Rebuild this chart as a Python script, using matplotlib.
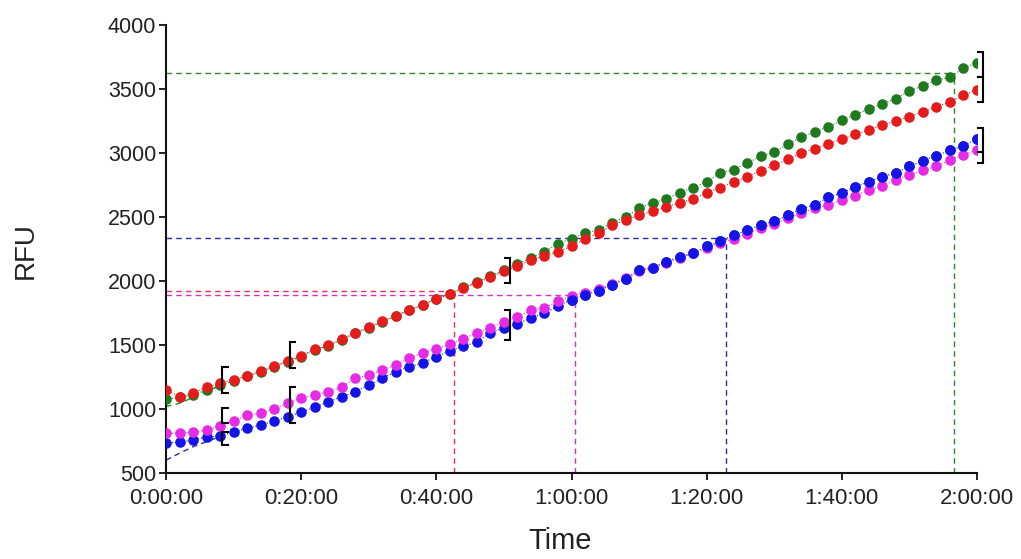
import matplotlib
matplotlib.use("Agg")
import matplotlib.pyplot as plt
import numpy as np

plt.rcParams['font.family'] = ['Liberation Sans', 'DejaVu Sans']

# time in minutes (dots every 2 minutes)
time_min = list(range(0, 121, 2))

red = [1150, 1095, 1125, 1170, 1200, 1230, 1260, 1295, 1335, 1375, 1415, 1465, 1500, 1545, 1595,
       1640, 1685, 1730, 1775, 1815, 1860, 1895, 1945, 1985, 2030, 2075, 2115, 2165, 2195, 2230,
       2270, 2330, 2375, 2435, 2475, 2515, 2545, 2580, 2610, 2640, 2690, 2730, 2775, 2815, 2860,
       2905, 2950, 3000, 3035, 3070, 3110, 3145, 3180, 3220, 3250, 3285, 3320, 3360, 3400, 3450, 3495]
green = [1075, 1090, 1110, 1150, 1185, 1220, 1255, 1290, 1330, 1370, 1410, 1460, 1495, 1540, 1590,
         1635, 1680, 1725, 1770, 1815, 1860, 1900, 1950, 1990, 2040, 2085, 2130, 2180, 2230, 2290,
         2330, 2375, 2400, 2455, 2500, 2570, 2610, 2640, 2690, 2730, 2775, 2845, 2870, 2920, 2975,
         3005, 3070, 3125, 3165, 3205, 3255, 3300, 3345, 3385, 3425, 3485, 3525, 3570, 3590, 3665, 3705]
blue = [735, 740, 758, 780, 790, 820, 850, 875, 905, 940, 975, 1015, 1055, 1095, 1135,
        1185, 1240, 1290, 1330, 1360, 1410, 1455, 1490, 1525, 1595, 1635, 1665, 1710, 1750, 1805,
        1855, 1890, 1925, 1970, 2015, 2085, 2105, 2150, 2190, 2220, 2270, 2310, 2360, 2395, 2440,
        2465, 2515, 2565, 2595, 2655, 2690, 2735, 2775, 2815, 2845, 2895, 2940, 2980, 3020, 3055, 3110]
magenta = [810, 812, 820, 836, 865, 905, 950, 970, 1000, 1045, 1085, 1110, 1135, 1170, 1240,
           1265, 1305, 1345, 1395, 1440, 1470, 1505, 1550, 1595, 1635, 1680, 1720, 1770, 1790, 1840,
           1885, 1910, 1940, 1980, 2020, 2075, 2105, 2140, 2180, 2215, 2260, 2295, 2330, 2370, 2415,
           2445, 2490, 2530, 2570, 2590, 2635, 2665, 2710, 2745, 2790, 2830, 2865, 2895, 2945, 2985, 3025]

# short fit segments at the start (dashed)
fit_time = [0, 2, 4, 6, 8]
blue_fit = [600, 655, 705, 745, 785]
green_fit = [1020, 1045, 1090, 1140, 1180]

# threshold crossing guides
cross_names = ['red', 'magenta', 'blue', 'green']
cross_times = [42.6, 60.5, 82.9, 116.6]
cross_values = [1920, 1893, 2336, 3625]

# brackets: (time, low, high, side)
bracket_t = [8.3, 8.3, 8.3, 18.3, 18.3, 50.9, 50.9, 120.9, 120.9, 120.9, 120.9]
bracket_lo = [1125, 890, 720, 1320, 890, 1984, 1539, 3594, 3398, 3008, 2922]
bracket_hi = [1330, 1010, 820, 1523, 1172, 2180, 1773, 3789, 3594, 3195, 3008]
bracket_side = ['[', '[', '[', '[', '[', ']', ']', ']', ']', ']', ']']

x_ticks = [0, 20, 40, 60, 80, 100, 120]
x_tick_labels = ['0:00:00', '0:20:00', '0:40:00', '1:00:00', '1:20:00', '1:40:00', '2:00:00']
y_ticks = [500, 1000, 1500, 2000, 2500, 3000, 3500, 4000]

dot_colors = {'red': '#e51c1c', 'green': '#1f7a1f', 'blue': '#1414e6', 'magenta': '#e62be6'}
guide_colors = {'red': '#e8305a', 'green': '#2a8a2a', 'blue': '#2a2aa0', 'magenta': '#d030d0'}

fig = plt.figure(figsize=(10.21, 5.59), dpi=100)
ax = fig.add_axes([166/1021, 1-473/559, (977-166)/1021, (473-25)/559])

# guides
for name, tc, vc in zip(cross_names, cross_times, cross_values):
    c = guide_colors[name]
    ax.plot([0, tc], [vc, vc], color=c, lw=1.0, ls=(0, (4, 3)), zorder=1)
    ax.plot([tc, tc], [500, vc], color=c, lw=1.0, ls=(0, (4, 3)), zorder=1)

# fit dashed starts
ax.plot(fit_time, blue_fit, color='#2a2ab0', lw=1.0, ls=(0, (4, 3)), zorder=2)
ax.plot(fit_time, green_fit, color='#2a8a2a', lw=1.0, ls=(0, (4, 3)), zorder=2)

ms = 7.6
series = [('green', green), ('red', red), ('blue', blue), ('magenta', magenta)]
for name, vals in series:
    ax.plot(time_min, vals, color=dot_colors[name], lw=0.8, ls=':', marker='o',
            markersize=ms, markeredgewidth=0, zorder=3)
# blue on top in the later part, as in the reference
ax.plot(time_min[30:], blue[30:], color=dot_colors['blue'], lw=0, marker='o', markersize=ms,
        markeredgewidth=0, zorder=3)

# brackets
serif = 0.8
for t, lo, hi, side in zip(bracket_t, bracket_lo, bracket_hi, bracket_side):
    d = serif if side == '[' else -serif
    ax.plot([t + d, t, t, t + d], [hi, hi, lo, lo], color='black', lw=1.5,
            clip_on=False, zorder=4, solid_joinstyle='miter')

ax.set_xlim(0, 120)
ax.set_ylim(500, 4000)
ax.set_xticks(x_ticks)
ax.set_xticklabels(x_tick_labels)
ax.set_yticks(y_ticks)
for s in ['top', 'right']:
    ax.spines[s].set_visible(False)
for s in ['left', 'bottom']:
    ax.spines[s].set_linewidth(1.5)
    ax.spines[s].set_color('#111111')
ax.tick_params(axis='both', direction='out', length=5, width=1.3, colors='#111111',
               labelcolor='#222222')
ax.tick_params(axis='x', labelsize=16, pad=6)
ax.tick_params(axis='y', labelsize=15.5, pad=2)

fig.text(560/1021, 1-541/559, 'Time', fontsize=21, ha='center', va='center', color='#222222')
fig.text(26/1021, 1-251/559, 'RFU', fontsize=20, ha='center', va='center', rotation=90,
         color='#222222')

fig.savefig('out.png', dpi=100)
